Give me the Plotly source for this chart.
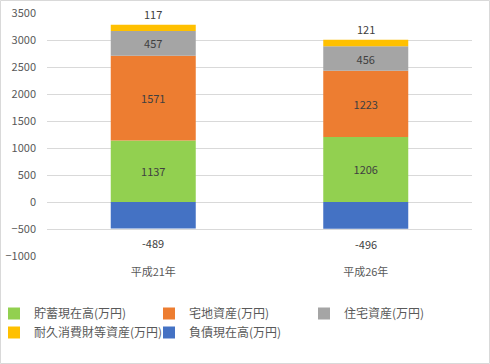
import plotly.graph_objects as go

categories = ["平成21年", "平成26年"]
series_names = ["貯蓄現在高(万円)", "宅地資産(万円)", "住宅資産(万円)", "耐久消費財等資産(万円)", "負債現在高(万円)"]
savings = [1137, 1206]
land = [1571, 1223]
housing = [457, 456]
durables = [117, 121]
debt = [-489, -496]
colors = ["#92D050", "#ED7D31", "#A5A5A5", "#FFC000", "#4472C4"]
y_ticks = [-1000, -500, 0, 500, 1000, 1500, 2000, 2500, 3000, 3500]

FONT = "Noto Sans CJK JP, Noto Sans, sans-serif"
TXT = "#595959"
LBL = "#404040"

fig = go.Figure()
series = [savings, land, housing, durables, debt]
for i, (name, vals) in enumerate(zip(series_names, series)):
    inside = i in (0, 1, 2)
    fig.add_trace(go.Bar(
        x=categories, y=vals, name=name,
        marker=dict(color=colors[i], line=dict(width=0)),
        text=[str(v) for v in vals] if inside else None,
        textposition="inside" if inside else "none",
        insidetextanchor="middle",
        textfont=dict(color=LBL, size=11, family=FONT),
        width=0.4,
    ))

# labels for small top segments and negative segments
for c, s, l, h, d in zip(categories, savings, land, housing, durables):
    top = s + l + h + d
    fig.add_annotation(x=c, y=top, text=str(d), showarrow=False, yanchor="bottom", yshift=1,
                       font=dict(color=LBL, size=11, family=FONT))
for c, v in zip(categories, debt):
    fig.add_annotation(x=c, y=v, text=str(v), showarrow=False, yanchor="top", yshift=-5,
                       font=dict(color=LBL, size=11, family=FONT))

PW, PH = 425, 243
fig.update_layout(
    barmode="relative",
    width=490, height=364,
    margin=dict(l=47, r=18, t=13, b=108, autoexpand=False),
    paper_bgcolor="white", plot_bgcolor="white",
    font=dict(family=FONT, color=TXT, size=11),
    xaxis=dict(showgrid=False, zeroline=False, showline=False, ticks="",
               ticklabelstandoff=8,
               tickfont=dict(size=11, color=TXT, family=FONT)),
    yaxis=dict(range=[-1000, 3500], tickvals=y_ticks, showgrid=True, gridcolor="#D9D9D9",
               gridwidth=1, zeroline=True, zerolinecolor="#D9D9D9", zerolinewidth=1,
               showline=False, ticks="", ticklabelstandoff=10,
               tickfont=dict(size=11, color=TXT, family=FONT)),
    legend=dict(orientation="h",
                x=-53 / PW, xanchor="left", y=-43 / PH, yanchor="top",
                entrywidth=110, entrywidthmode="pixels", itemwidth=30,
                font=dict(size=12, color=TXT, family=FONT), traceorder="normal",
                tracegroupgap=0, bgcolor="rgba(0,0,0,0)"),
    showlegend=True,
    shapes=[dict(type="rect", xref="paper", yref="paper",
                 x0=-46.5 / PW, x1=1 + 17.5 / PW, y0=-107.5 / PH, y1=1 + 12.5 / PH,
                 line=dict(color="#D9D9D9", width=1), fillcolor="rgba(0,0,0,0)", layer="below")],
)

fig.write_html("out.html", config={"displayModeBar": False},
               post_script="document.body.style.margin='0';")
